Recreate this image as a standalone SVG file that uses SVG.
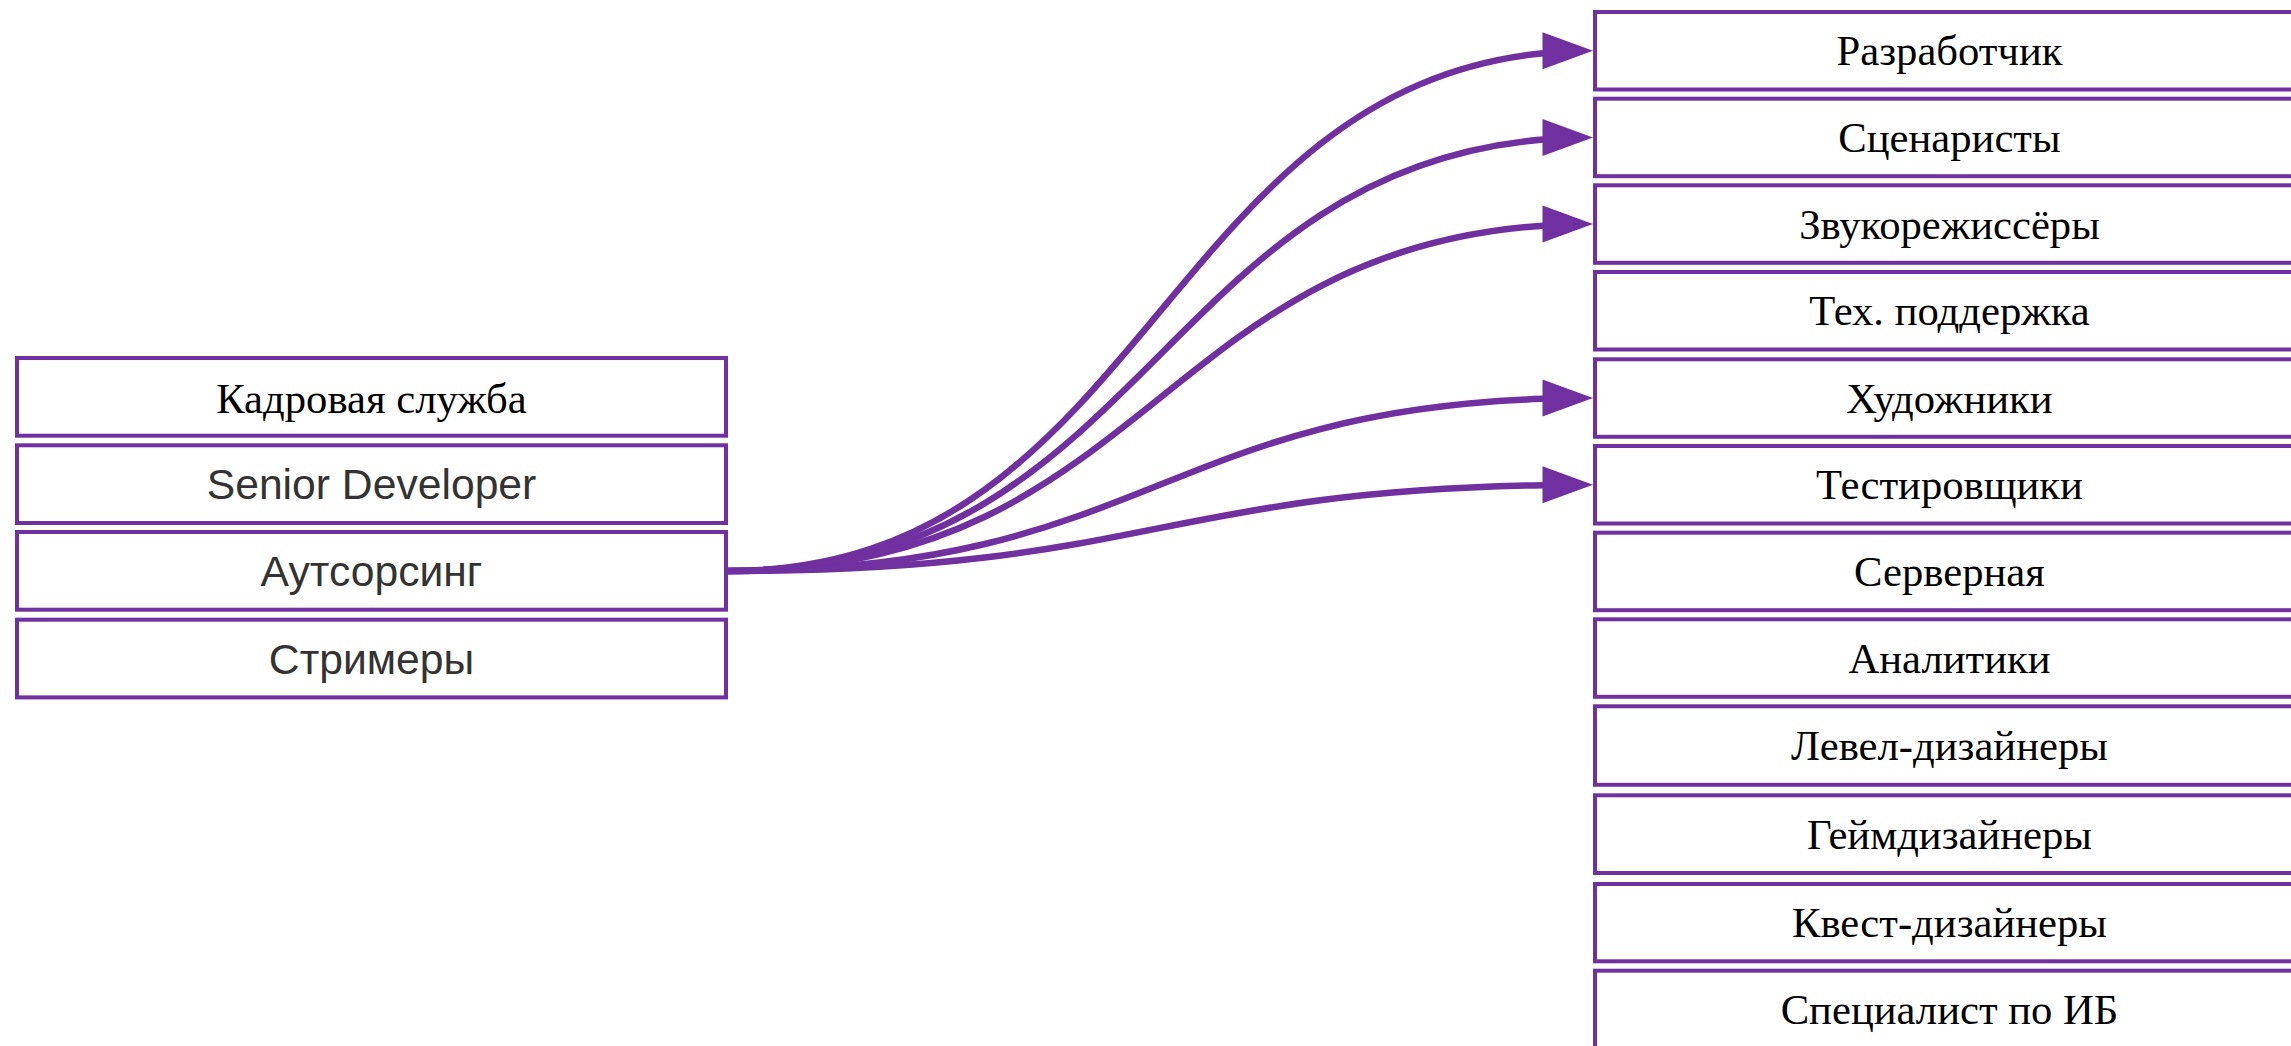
<svg xmlns="http://www.w3.org/2000/svg" width="2291" height="1046" viewBox="0 0 2291 1046">
<style>
.box{fill:#ffffff;stroke:#7030a0;stroke-width:4}
.serif{font-family:"Liberation Serif","Times New Roman",serif;font-size:42.67px;fill:#000000;text-anchor:middle}
.sans{font-family:"Liberation Sans",Arial,sans-serif;font-size:42.67px;fill:#333333;text-anchor:middle}
.link{fill:none;stroke:#7030a0;stroke-width:6.5}
.head{fill:#7030a0}
</style>
<defs>
<path id="ah" class="head" d="M-0.5,-18.5 L50,0 L-0.5,18.5 Z"/>
</defs>
<rect width="2291" height="1046" fill="#ffffff"/>
<g id="left-nodes">
<g id="node-kadrovaya"><rect class="box" x="17" y="358" width="709" height="77.7"/><text class="serif" x="371.5" y="412.5">Кадровая служба</text></g>
<g id="node-senior"><rect class="box" x="17" y="445.3" width="709" height="77.7"/><text class="sans" x="371.5" y="499.3">Senior Developer</text></g>
<g id="node-outsourcing"><rect class="box" x="17" y="532" width="709" height="77.7"/><text class="sans" x="371.5" y="586.3">Аутсорсинг</text></g>
<g id="node-streamers"><rect class="box" x="17" y="619.7" width="709" height="77.7"/><text class="sans" x="371.5" y="673.8">Стримеры</text></g>
</g>
<g id="right-nodes">
<g id="node-dev"><rect class="box" x="1595" y="12" width="709" height="77.5"/><text class="serif" x="1949.5" y="65.3">Разработчик</text></g>
<g id="node-script"><rect class="box" x="1595" y="98.7" width="709" height="77.5"/><text class="serif" x="1949.5" y="152">Сценаристы</text></g>
<g id="node-sound"><rect class="box" x="1595" y="185.3" width="709" height="77.5"/><text class="serif" x="1949.5" y="238.6">Звукорежиссёры</text></g>
<g id="node-support"><rect class="box" x="1595" y="272" width="709" height="77.5"/><text class="serif" x="1949.5" y="325.3">Тех. поддержка</text></g>
<g id="node-artists"><rect class="box" x="1595" y="359.3" width="709" height="77.5"/><text class="serif" x="1949.5" y="412.6">Художники</text></g>
<g id="node-testers"><rect class="box" x="1595" y="446" width="709" height="77.5"/><text class="serif" x="1949.5" y="499.3">Тестировщики</text></g>
<g id="node-server"><rect class="box" x="1595" y="532.7" width="709" height="77.5"/><text class="serif" x="1949.5" y="586">Серверная</text></g>
<g id="node-analytics"><rect class="box" x="1595" y="619.3" width="709" height="77.5"/><text class="serif" x="1949.5" y="672.6">Аналитики</text></g>
<g id="node-level"><rect class="box" x="1595" y="706.3" width="709" height="78.5"/><text class="serif" x="1949.5" y="760">Левел-дизайнеры</text></g>
<g id="node-game"><rect class="box" x="1595" y="795.3" width="709" height="77.7"/><text class="serif" x="1949.5" y="848.8">Геймдизайнеры</text></g>
<g id="node-quest"><rect class="box" x="1595" y="884" width="709" height="77.3"/><text class="serif" x="1949.5" y="937.3">Квест-дизайнеры</text></g>
<g id="node-infosec"><rect class="box" x="1595" y="970.7" width="709" height="77.5"/><text class="serif" x="1949.5" y="1024">Специалист по ИБ</text></g>
</g>
<g id="connectors">
<path class="link" d="M728,571 C1143.2,571 1159.8,91.54 1543.1,53.18"/>
<path class="link" d="M728,571 C1143.2,571 1159.8,171.44 1543.1,139.47"/>
<path class="link" d="M728,571 C1143.2,571 1159.8,251.25 1543.1,225.67"/>
<path class="link" d="M728,571 C1143.2,571 1159.8,411.61 1543.1,398.86"/>
<path class="link" d="M728,571 C1143.2,571 1159.8,491.51 1543.1,485.15"/>
<use href="#ah" x="1543" y="50.75"/>
<use href="#ah" x="1543" y="137.45"/>
<use href="#ah" x="1543" y="224.05"/>
<use href="#ah" x="1543" y="398.05"/>
<use href="#ah" x="1543" y="484.75"/>
</g>
</svg>
